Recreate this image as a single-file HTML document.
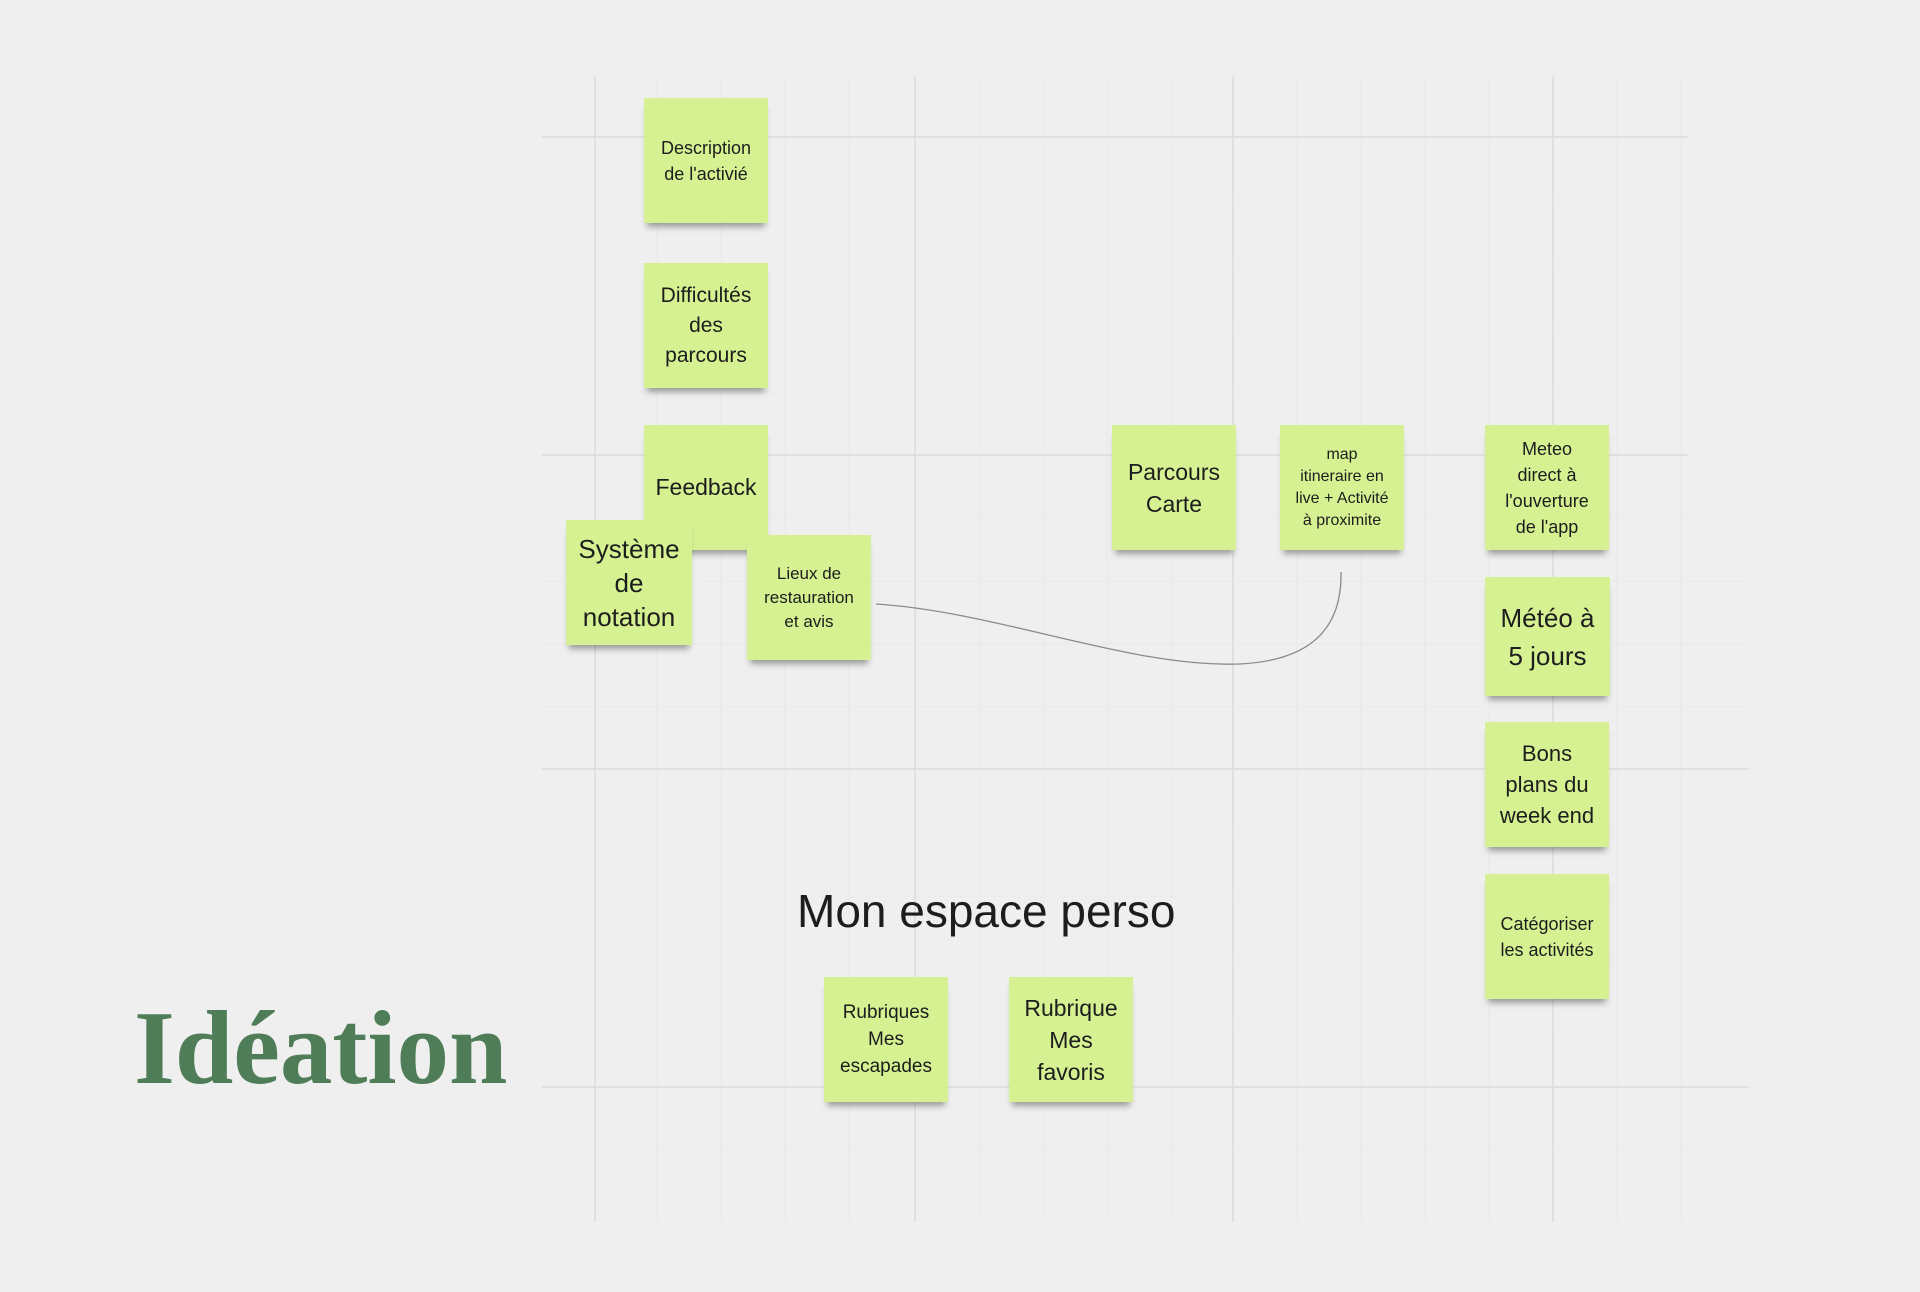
<!DOCTYPE html>
<html><head><meta charset="utf-8"><style>
body{margin:0;width:1920px;height:1292px;background:#efefef;position:relative;overflow:hidden;font-family:"Liberation Sans",sans-serif}
.n{position:absolute;width:124px;height:125px;background:#d5f191;display:flex;align-items:center;justify-content:center;text-align:center;color:#1d1d1d;box-shadow:0 7px 6px -3px rgba(0,0,0,.35)}
.t{position:absolute;white-space:nowrap}
</style></head><body>
<svg width="1920" height="1292" style="position:absolute;left:0;top:0">
<g stroke="#e9e9e9" stroke-width="1">
<line x1="657" y1="76" x2="657" y2="1222"/><line x1="721" y1="76" x2="721" y2="1222"/><line x1="785" y1="76" x2="785" y2="1222"/><line x1="849" y1="76" x2="849" y2="1222"/>
<line x1="979" y1="76" x2="979" y2="1222"/><line x1="1043" y1="76" x2="1043" y2="1222"/><line x1="1107" y1="76" x2="1107" y2="1222"/><line x1="1171" y1="76" x2="1171" y2="1222"/>
<line x1="1297" y1="76" x2="1297" y2="1222"/><line x1="1361" y1="76" x2="1361" y2="1222"/><line x1="1425" y1="76" x2="1425" y2="1222"/><line x1="1489" y1="76" x2="1489" y2="1222"/>
<line x1="1617" y1="76" x2="1617" y2="1222"/><line x1="1681" y1="76" x2="1681" y2="1222"/>
<line x1="542" y1="200" x2="1688" y2="200"/><line x1="542" y1="264" x2="1688" y2="264"/><line x1="542" y1="328" x2="1688" y2="328"/><line x1="542" y1="392" x2="1688" y2="392"/>
<line x1="542" y1="518" x2="1748" y2="518"/><line x1="542" y1="581" x2="1748" y2="581"/><line x1="542" y1="644" x2="1748" y2="644"/><line x1="542" y1="707" x2="1748" y2="707"/>
<line x1="542" y1="832" x2="1748" y2="832"/><line x1="542" y1="896" x2="1748" y2="896"/><line x1="542" y1="960" x2="1748" y2="960"/><line x1="542" y1="1024" x2="1748" y2="1024"/>
<line x1="542" y1="1150" x2="1748" y2="1150"/>
</g>
<g stroke="#dcdcdc" stroke-width="1.5">
<line x1="595" y1="76" x2="595" y2="1222"/><line x1="915" y1="76" x2="915" y2="1222"/><line x1="1233" y1="76" x2="1233" y2="1222"/><line x1="1553" y1="76" x2="1553" y2="1222"/>
<line x1="542" y1="137" x2="1688" y2="137"/><line x1="542" y1="455" x2="1688" y2="455"/><line x1="542" y1="769" x2="1748" y2="769"/><line x1="542" y1="1087" x2="1748" y2="1087"/>
</g>
<path d="M876,604 C1000,612 1130,668 1240,664 C1320,660 1342,620 1341,572" fill="none" stroke="#8a8a8a" stroke-width="1.3"/>
</svg>
<div class="n" style="left:644px;top:98px;font-size:18px;line-height:26px">Description<br>de l'activié</div>
<div class="n" style="left:644px;top:263px;font-size:21px;line-height:30px">Difficultés<br>des<br>parcours</div>
<div class="n" style="left:644px;top:425px;font-size:23px">Feedback</div>
<div class="n" style="left:566px;top:520px;width:126px;font-size:26px;line-height:34px">Système<br>de<br>notation</div>
<div class="n" style="left:747px;top:535px;font-size:17px;line-height:24px">Lieux de<br>restauration<br>et avis</div>
<div class="n" style="left:1112px;top:425px;font-size:23px;line-height:32px">Parcours<br>Carte</div>
<div class="n" style="left:1280px;top:425px;font-size:16px;line-height:22px">map<br>itineraire en<br>live + Activité<br>à proximite</div>
<div class="n" style="left:1485px;top:425px;font-size:18px;line-height:26px">Meteo<br>direct à<br>l'ouverture<br>de l'app</div>
<div class="n" style="left:1485px;top:577px;width:125px;height:119px;font-size:26px;line-height:38px">Météo à<br>5 jours</div>
<div class="n" style="left:1485px;top:722px;font-size:22px;line-height:31px">Bons<br>plans du<br>week end</div>
<div class="n" style="left:1485px;top:874px;font-size:18px;line-height:26px">Catégoriser<br>les activités</div>
<div class="n" style="left:824px;top:977px;font-size:19px;line-height:27px">Rubriques<br>Mes<br>escapades</div>
<div class="n" style="left:1009px;top:977px;font-size:23px;line-height:32px">Rubrique<br>Mes<br>favoris</div>
<div class="t" style="left:797px;top:884px;font-size:46px;color:#1d1d1d">Mon espace perso</div>
<div class="t" style="left:134px;top:988px;font-family:'Liberation Serif',serif;font-weight:bold;font-size:105px;color:#4e7d58;line-height:120px">Idéation</div>
</body></html>
